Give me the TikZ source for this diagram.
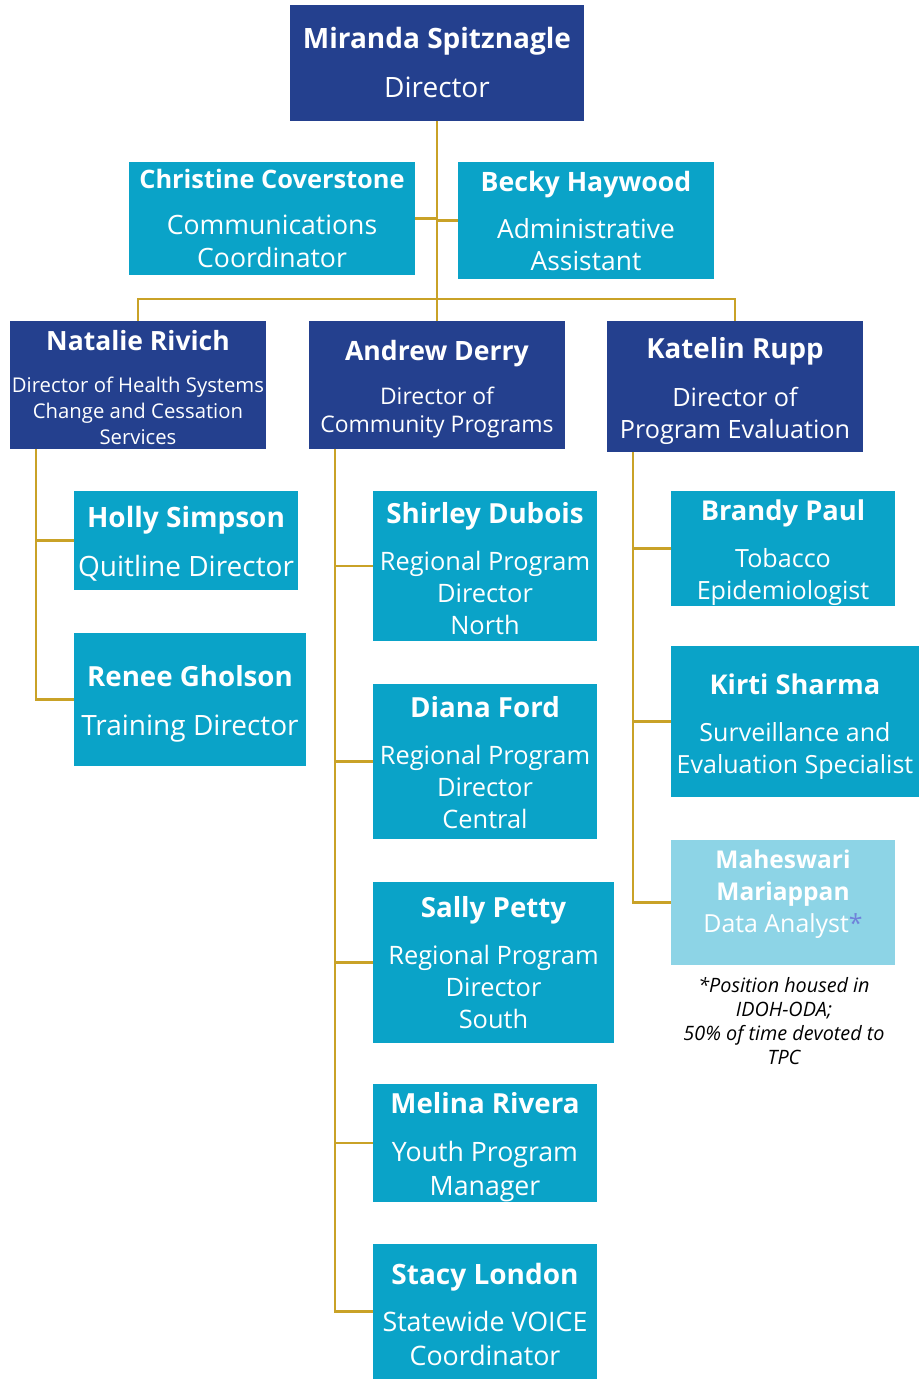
\documentclass[tikz,border=0pt]{standalone}
\usepackage{fontspec}
\setmainfont{Open Sans}
\definecolor{navybox}{HTML}{24408E}
\definecolor{tealbox}{HTML}{0AA3C8}
\definecolor{lightbox}{HTML}{8DD4E6}
\definecolor{goldline}{HTML}{C9A227}
\definecolor{starblue}{HTML}{6F82DA}
\newcommand{\pname}[2][27.7]{{\fontsize{#1}{32}\selectfont\bfseries #2}}
\newcommand{\nstrut}[1]{\rule{0pt}{#1pt}}
\tikzset{
  orgbox/.style={inner sep=0pt, outer sep=0pt, align=center, text=white,
    font=\fontsize{25.4}{32}\selectfont},
  tsize/.style 2 args={font=\fontsize{#1}{#2}\selectfont},
  leadbox/.style={orgbox, fill=navybox},
  staffbox/.style={orgbox, fill=tealbox},
  databox/.style={orgbox, fill=lightbox},
  conn/.style={draw=goldline, line width=2.6pt},
}
\begin{document}
\begin{tikzpicture}[x=1pt, y=-1pt]
        \useasboundingbox (0,0) rectangle (919,1380);

        % Director
        \node[leadbox, tsize={28}{32}, minimum width=294, minimum height=116] (miranda) at (437,63)
            {\pname[28]{Miranda Spitznagle}\\[17pt] Director};

        % Office staff
        \node[staffbox, tsize={26.6}{33}, minimum width=286, minimum height=113] (christine) at (272,218.5)
            {\pname[25.4]{Christine Coverstone}\\[13pt] Communications\\Coordinator};
        \node[staffbox, tsize={26.4}{32}, minimum width=256, minimum height=117] (becky) at (586,220.5)
            {\pname[26.7]{Becky Haywood}\\[15pt] Administrative\\Assistant};

        % Program directors
        \node[leadbox, tsize={20.3}{26}, minimum width=256, minimum height=128] (natalie) at (138,385)
            {\nstrut{25}\pname[26.5]{Natalie Rivich}\\[16pt] Director of Health Systems\\Change and Cessation\\Services};
        \node[leadbox, tsize={22.9}{28}, minimum width=256, minimum height=128] (andrew) at (437,385)
            {\nstrut{29}\pname[26.6]{Andrew Derry}\\[16pt] Director of\\Community Programs};
        \node[leadbox, tsize={25.2}{32}, minimum width=256, minimum height=131] (katelin) at (735,386.5)
            {\nstrut{30}\pname{Katelin Rupp}\\[16pt] Director of\\Program Evaluation};

        % Health systems team
        \node[staffbox, tsize={28}{32}, minimum width=224, minimum height=99] (holly) at (186,540.5)
            {\nstrut{27}\pname[28]{Holly Simpson}\\[17pt] Quitline Director};
        \node[staffbox, tsize={28}{32}, minimum width=232, minimum height=133] (renee) at (190,699.5)
            {\nstrut{29}\pname{Renee Gholson}\\[17pt] Training Director};

        % Community programs team
        \node[staffbox, minimum width=224, minimum height=150] (shirley) at (485,566)
            {\nstrut{26}\pname{Shirley Dubois}\\[15pt] Regional Program\\Director\\North};
        \node[staffbox, minimum width=224, minimum height=155] (diana) at (485,761.5)
            {\nstrut{24}\pname{Diana Ford}\\[15pt] Regional Program\\Director\\Central};
        \node[staffbox, minimum width=241, minimum height=161] (sally) at (493.5,962.5)
            {\pname{Sally Petty}\\[15pt] Regional Program\\Director\\South};
        \node[staffbox, tsize={26.7}{34}, minimum width=224, minimum height=116] (melina) at (485,1143)
            {\nstrut{30}\pname{Melina Rivera}\\[14pt] Youth Program\\Manager};
        \node[staffbox, tsize={26.8}{34}, minimum width=224, minimum height=135] (stacy) at (485,1311.5)
            {\nstrut{27}\pname[28]{Stacy London}\\[13pt] Statewide VOICE\\Coordinator};

        % Evaluation team
        \node[staffbox, tsize={25.1}{32}, minimum width=224, minimum height=109] (brandy) at (783,548.5)
            {\nstrut{29}\pname[27.3]{Brandy Paul}\\[15pt] Tobacco\\Epidemiologist};
        \node[staffbox, tsize={25}{32}, minimum width=248, minimum height=151] (kirti) at (795,721.5)
            {\nstrut{30}\pname[27.2]{Kirti Sharma}\\[15pt] Surveillance and\\Evaluation Specialist};
        \node[databox, tsize={24.9}{32}, text depth=22pt, minimum width=224, minimum height=125] (maheswari) at (783,902.5)
            {\pname[24.5]{Maheswari}\\\pname[24.5]{Mariappan}\\Data Analyst{\color{starblue}*}};
        \node[align=center, font=\fontsize{19.8}{24}\selectfont\itshape] (footnote) at (784,1021)
            {*Position housed in\\IDOH-ODA;\\50\% of time devoted to\\TPC};

        % Connectors
        \coordinate (bus) at (437,299);
        \coordinate (hsspine) at ([xshift=26pt]natalie.south west);
        \coordinate (cpspine) at ([xshift=26pt]andrew.south west);
        \coordinate (pespine) at ([xshift=26pt]katelin.south west);

        \draw[conn] (miranda.south) -- (andrew.north);
        \draw[conn] (christine.east) -- (christine.east -| miranda.south);
        \draw[conn] (becky.west) -- (becky.west -| miranda.south);
        \draw[conn] (natalie.north) |- (bus) -| (katelin.north);

        \draw[conn] (hsspine) |- (holly.west);
        \draw[conn] (hsspine) |- (renee.west);

        \draw[conn] (cpspine) |- (stacy.west);
        \foreach \staff in {shirley, diana, sally, melina}
            \draw[conn] (\staff.west) -- (\staff.west -| cpspine);

        \draw[conn] (pespine) |- (maheswari.west);
        \foreach \staff in {brandy, kirti}
            \draw[conn] (\staff.west) -- (\staff.west -| pespine);
\end{tikzpicture}
\end{document}
